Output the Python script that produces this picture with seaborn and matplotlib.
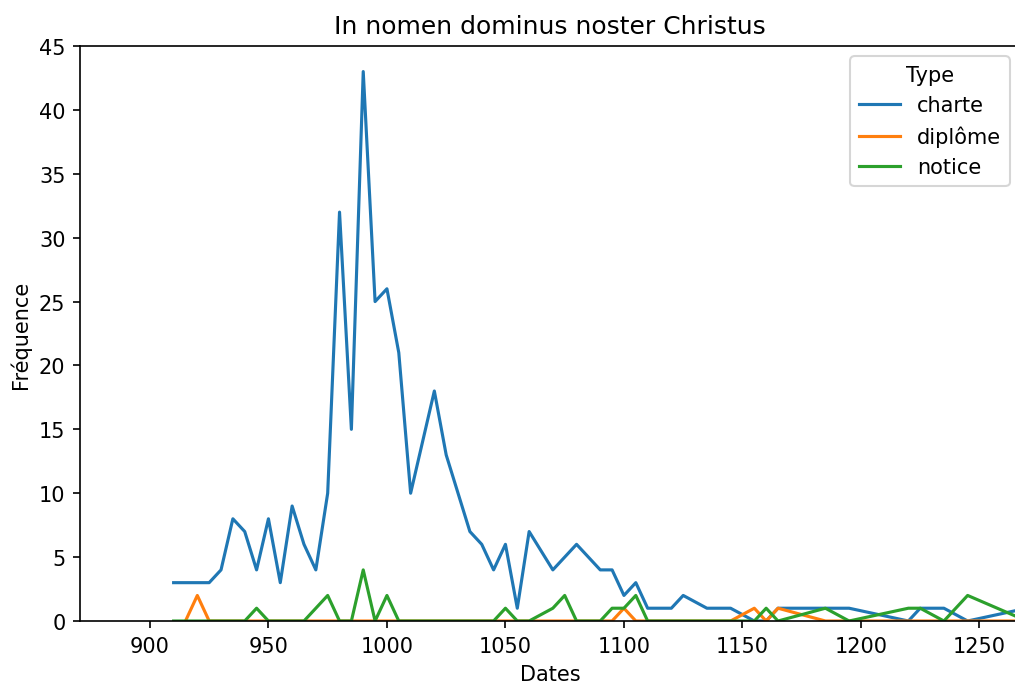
import pandas as pd
import matplotlib
matplotlib.use("Agg")
import matplotlib.pyplot as plt
import seaborn as sns

# ---------------------- DATA ---------------------- #
charte_dates = [910, 915, 920, 925, 930, 935, 940, 945, 950, 955, 960, 965, 970, 975,
                980, 985, 990, 995, 1000, 1005, 1010, 1015, 1020, 1025, 1030, 1035,
                1040, 1045, 1050, 1055, 1060, 1070, 1075, 1080, 1085, 1090, 1095,
                1100, 1105, 1110, 1115, 1120, 1125, 1135, 1140, 1145, 1155, 1160,
                1165, 1170, 1175, 1180, 1185, 1190, 1195, 1220, 1225, 1230, 1235,
                1245, 1270]
charte_freq = [3, 3, 3, 3, 4, 8, 7, 4, 8, 3, 9, 6, 4, 10,
               32, 15, 43, 25, 26, 21, 10, 14, 18, 13, 10, 7,
               6, 4, 6, 1, 7, 4, 5, 6, 5, 4, 4,
               2, 3, 1, 1, 1, 2, 1, 1, 1, 0, 0,
               1, 1, 1, 1, 1, 1, 1, 0, 1, 1, 1,
               0, 1]

diplome_dates = [915, 920, 925, 1095, 1100, 1105, 1145, 1155, 1160, 1165, 1185, 1270]
diplome_freq = [0, 2, 0, 0, 1, 0, 0, 1, 0, 1, 0, 0]

notice_dates = [910, 940, 945, 950, 965, 970, 975, 980, 985, 990, 995, 1000, 1005,
                1045, 1050, 1055, 1060, 1070, 1075, 1080, 1090, 1095, 1100, 1105,
                1110, 1155, 1160, 1165, 1185, 1195, 1220, 1225, 1235, 1245, 1270]
notice_freq = [0, 0, 1, 0, 0, 1, 2, 0, 0, 4, 0, 2, 0,
               0, 1, 0, 0, 1, 2, 0, 0, 1, 1, 2,
               0, 0, 1, 0, 1, 0, 1, 1, 0, 2, 0]

df = pd.concat([
    pd.DataFrame({"Dates": charte_dates, "Fréquence": charte_freq, "Type": "charte"}),
    pd.DataFrame({"Dates": diplome_dates, "Fréquence": diplome_freq, "Type": "diplôme"}),
    pd.DataFrame({"Dates": notice_dates, "Fréquence": notice_freq, "Type": "notice"}),
], ignore_index=True)

# ---------------------- LINE PLOT ---------------------- #
# the axes run a little past the right edge (the reference is cropped there)
fig = plt.figure(figsize=(1015 / 150, 684 / 150), dpi=150)
ax = fig.add_axes([80 / 1015, 62 / 684, 940 / 1015, 575 / 684])
sns.lineplot(x="Dates", y="Fréquence", hue="Type", data=df, ax=ax, errorbar=None,
             hue_order=["charte", "diplôme", "notice"])
ax.set_xlim(870.5, 1267.1)
ax.set_ylim(0, 45)
ax.set_title("In nomen dominus noster Christus")
ax.set_xlabel("Dates")
ax.set_ylabel("Fréquence")
ax.legend(title="Type", loc="upper right")
fig.savefig("out.png", dpi=150)
